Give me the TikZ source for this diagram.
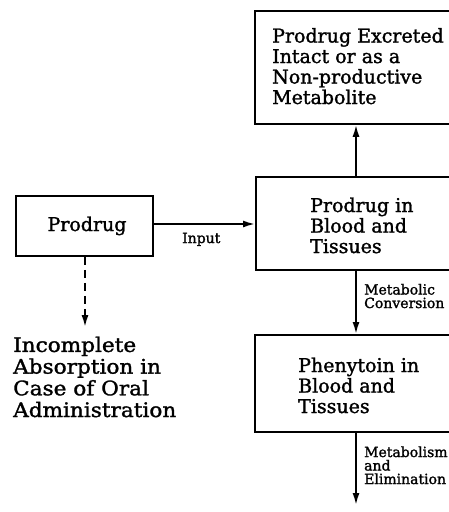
\documentclass[tikz,border=0pt]{standalone}
\usepackage{fontspec}
\setmainfont[FakeBold=1.5]{DejaVu Serif}
\newfontfamily\widefont[FakeBold=1.5,FakeStretch=1.08]{DejaVu Serif}
\usetikzlibrary{arrows.meta}
\begin{document}
\begin{tikzpicture}[x=1pt,y=-1pt,
  box/.style={draw,line width=1.8pt,inner sep=0pt},
  big/.style={font=\fontsize{19}{20.5}\selectfont,align=left,inner sep=0pt},
  small/.style={font=\fontsize{14}{13.5}\selectfont,align=left,inner sep=0pt},
  arr/.style={line width=1.8pt,-{Latex[length=12pt,width=7pt]}}]
\useasboundingbox (0,0) rectangle (449,512);
\clip (0,0) rectangle (449,512);
% boxes
\node[box,minimum width=198pt,minimum height=113pt,anchor=north west] (top) at (254,10) {};
\node[box,minimum width=198pt,minimum height=93pt,anchor=north west] (mid) at (255,176) {};
\node[box,minimum width=198pt,minimum height=97pt,anchor=north west] (phen) at (254,334) {};
\node[box,minimum width=137pt,minimum height=60pt,anchor=north west] (prod) at (15,195) {};
% texts (base anchor = baseline of last line)
\node[big,anchor=base west] (ttop) at (272,104) {Prodrug Excreted\\Intact or as a\\Non-productive\\Metabolite};
\node[big,anchor=base west] (tmid) at (310,253) {Prodrug in\\Blood and\\Tissues};
\node[big,anchor=base west] (tphen) at (298,413) {Phenytoin in\\Blood and\\Tissues};
\node[big,anchor=base] (tprod) at (87,231) {Prodrug};
\node[big,anchor=base west,font=\widefont\fontsize{20}{21.7}\selectfont] (tinc) at (13,417) {Incomplete\\Absorption in\\Case of Oral\\Administration};
% column coordinates
\coordinate (c1) at (356,0);
\coordinate (dz) at (85,327);
\coordinate (endd) at (356,505);
% connectors
\draw[arr] (mid.north -| c1) -- (top.south -| c1);
\draw[arr] (prod.east |- 0,224) -- (mid.west |- 0,224);
\node[small,anchor=base west] (linput) at (182,243) {Input};
\draw[arr,dash pattern=on 8pt off 5pt] (prod.south -| dz) -- (dz);
\draw[arr] (mid.south -| c1) -- (phen.north -| c1);
\node[small,anchor=base west] (lmc) at (364,308) {Metabolic\\Conversion};
\draw[arr] (phen.south -| c1) -- (endd);
\node[small,anchor=base west] (lme) at (364,484) {Metabolism\\and\\Elimination};
\end{tikzpicture}
\end{document}
